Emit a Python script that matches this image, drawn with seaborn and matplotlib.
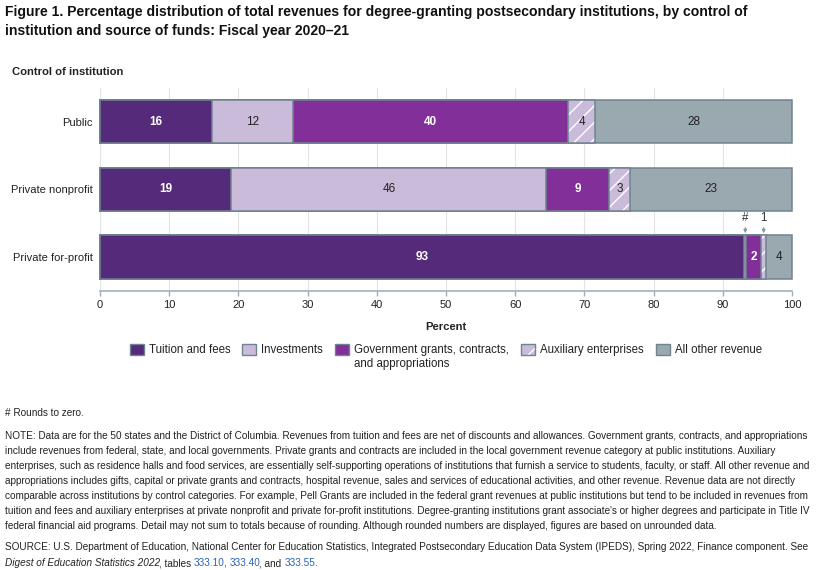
import matplotlib
matplotlib.use("Agg")
import matplotlib.pyplot as plt
import seaborn as sns
import numpy as np
from matplotlib.patches import Patch
from matplotlib.text import Annotation

# ---------------- data ----------------
categories = ["Public", "Private nonprofit", "Private for-profit"]
series_names = ["Tuition and fees", "Investments", "Government grants, contracts,",
                "Auxiliary enterprises", "All other revenue"]
tuition = [16.2, 19.0, 93.1]
investments = [11.7, 45.5, 0.3]
government = [39.7, 9.1, 2.1]
auxiliary = [4.0, 3.0, 0.8]
other = [28.4, 23.4, 3.7]
x_ticks = [0, 10, 20, 30, 40, 50, 60, 70, 80, 90, 100]

title = ("Figure 1. Percentage distribution of total revenues for degree-granting postsecondary institutions, by control of\n"
         "institution and source of funds: Fiscal year 2020\u201321")
note_lines = [
    "NOTE: Data are for the 50 states and the District of Columbia. Revenues from tuition and fees are net of discounts and allowances. Government grants, contracts, and appropriations",
    "include revenues from federal, state, and local governments. Private grants and contracts are included in the local government revenue category at public institutions. Auxiliary",
    "enterprises, such as residence halls and food services, are essentially self-supporting operations of institutions that furnish a service to students, faculty, or staff. All other revenue and",
    "appropriations includes gifts, capital or private grants and contracts, hospital revenue, sales and services of educational activities, and other revenue. Revenue data are not directly",
    "comparable across institutions by control categories. For example, Pell Grants are included in the federal grant revenues at public institutions but tend to be included in revenues from",
    "tuition and fees and auxiliary enterprises at private nonprofit and private for-profit institutions. Degree-granting institutions grant associate's or higher degrees and participate in Title IV",
    "federal financial aid programs. Detail may not sum to totals because of rounding. Although rounded numbers are displayed, figures are based on unrounded data.",
]
source_line1 = ("SOURCE: U.S. Department of Education, National Center for Education Statistics, Integrated Postsecondary "
                "Education Data System (IPEDS), Spring 2022, Finance component. See")
source_pieces = [("Digest of Education Statistics 2022", "italic", "#222222"),
                 (", tables ", "normal", "#222222"),
                 ("333.10", "normal", "#2a62b8"),
                 (", ", "normal", "#222222"),
                 ("333.40", "normal", "#2a62b8"),
                 (", and ", "normal", "#222222"),
                 ("333.55", "normal", "#2a62b8"),
                 (".", "normal", "#222222")]

# ---------------- style ----------------
sns.set_theme(style="white")
plt.rcParams['font.family'] = ['Liberation Sans', 'DejaVu Sans']
plt.rcParams['hatch.linewidth'] = 1.0

colors = ["#562a7b", "#cbbbdb", "#822f99", "#cbbbdb", "#9aa8b0"]
hatches = [None, None, None, "//", None]
edge = "#6f8390"
label_colors = ["white", "#222222", "white", "#222222", "#222222"]
label_weights = ["bold", "normal", "bold", "normal", "normal"]
text_color = "#222222"

W, H = 816, 570
fig = plt.figure(figsize=(W / 100, H / 100), dpi=100)
ax = fig.add_axes([100 / W, 1 - 290.7 / H, 692 / W, (290.7 - 88) / H])

series = [tuition, investments, government, auxiliary, other]
cums = []
c = np.zeros(len(categories))
for s in series:
    c = c + np.array(s)
    cums.append(c.copy())

bar_w = 0.64
# draw cumulative bars from the right-most series backwards
for i in range(len(series) - 1, -1, -1):
    if hatches[i]:
        sns.barplot(x=cums[i], y=categories, orient="h", color=colors[i], saturation=1,
                    width=bar_w, edgecolor="white", linewidth=0, hatch=hatches[i],
                    errorbar=None, ax=ax)
        sns.barplot(x=cums[i], y=categories, orient="h", color=edge, saturation=1,
                    width=bar_w, fill=False, linewidth=1.1, errorbar=None, ax=ax)
    else:
        sns.barplot(x=cums[i], y=categories, orient="h", color=colors[i], saturation=1,
                    width=bar_w, edgecolor=edge, linewidth=1.1, errorbar=None, ax=ax)
for p in ax.patches:
    p.set_clip_on(False)

# segment labels
for i, s in enumerate(series):
    for j, v in enumerate(s):
        center = cums[i][j] - v / 2
        lab = "#" if v < 0.5 else f"{int(np.floor(v + 0.5))}"
        if v < 1.5:
            ax.annotate(lab, xy=(center, j - bar_w / 2 - 0.02), xytext=(0, 7.5),
                        textcoords="offset points", ha="center", va="bottom",
                        fontsize=8.3, color="#333333", annotation_clip=False,
                        arrowprops=dict(arrowstyle="-|>", color="#7f98a8", lw=0.8,
                                        mutation_scale=5, shrinkA=0.5, shrinkB=0.5))
        else:
            ax.text(center, j, lab, ha="center", va="center", fontsize=8.5,
                    color=label_colors[i], fontweight=label_weights[i])

ax.set_xlim(0, 100)
ax.set_xticks(x_ticks)
ax.set_xticklabels([str(t) for t in x_ticks])
ax.set_xlabel("")
ax.set_ylabel("")
ax.xaxis.grid(True, color="#e4e4e4", lw=0.8)
ax.yaxis.grid(False)
ax.set_axisbelow(True)
for sp in ["top", "right", "left"]:
    ax.spines[sp].set_visible(False)
ax.spines["bottom"].set_color("#9fb0ba")
ax.spines["bottom"].set_linewidth(1.2)
ax.tick_params(axis="x", length=3.5, color="#9fb0ba", width=1, labelsize=8,
               pad=3, labelcolor=text_color, bottom=True)
ax.tick_params(axis="y", length=0, labelsize=8, pad=5, labelcolor=text_color)
for lab in ax.get_xticklabels() + ax.get_yticklabels():
    lab.set_fontsize(8)

# ---------------- texts ----------------
fig.text(5 / W, 1 - 5 / H, title, fontsize=10.1, fontweight="bold", va="top",
         ha="left", linespacing=1.42, color="#111111")
fig.text(12 / W, 1 - 72 / H, "Control of institution", fontsize=8.1,
         fontweight="bold", va="center", ha="left", color=text_color)
fig.text(446 / W, 1 - 327 / H, "Percent", fontsize=8.1, fontweight="bold",
         va="center", ha="center", color=text_color)

# legend
handles = []
for i in range(len(series)):
    if hatches[i]:
        handles.append((Patch(facecolor=colors[i], edgecolor="white", hatch=hatches[i], lw=0),
                        Patch(facecolor="none", edgecolor=edge, lw=1.0)))
    else:
        handles.append(Patch(facecolor=colors[i], edgecolor=edge, lw=1.0))
leg = fig.legend(handles=handles, labels=series_names, ncol=5, loc="center",
                 bbox_to_anchor=(446 / W, 1 - 350 / H), frameon=False, fontsize=8.3,
                 handlelength=1.2, handleheight=1.2, handletextpad=0.45,
                 columnspacing=1.05, borderpad=0, borderaxespad=0)
for t in leg.get_texts():
    t.set_color(text_color)
extra = Annotation("and appropriations", xy=(0, 0), xycoords=leg.get_texts()[2],
                   xytext=(0, -1.2), textcoords="offset points", ha="left", va="top",
                   fontsize=8.3, color=text_color)
extra.set_zorder(20)
fig.add_artist(extra)

# notes
nfs = 7.2
fig.text(5 / W, 1 - 413 / H, "# Rounds to zero.", fontsize=nfs, va="center",
         ha="left", color=text_color)
for k, line in enumerate(note_lines):
    fig.text(5 / W, 1 - (436 + 15 * k) / H, line, fontsize=nfs, va="center",
             ha="left", color=text_color)
fig.text(5 / W, 1 - 547 / H, source_line1, fontsize=nfs, va="center", ha="left",
         color=text_color)
prev = fig.text(5 / W, 1 - 568 / H, source_pieces[0][0], fontsize=nfs, va="bottom",
                ha="left", style=source_pieces[0][1], color=source_pieces[0][2])
for txt, st, col in source_pieces[1:]:
    dx = -0.7 if txt[0] in ",." else 0.0
    a = Annotation(txt, xy=(1, 0), xycoords=prev, xytext=(dx, 0),
                   textcoords="offset points", ha="left", va="bottom",
                   fontsize=nfs, style=st, color=col)
    a.set_zorder(20)
    fig.add_artist(a)
    prev = a

fig.savefig("out.png", dpi=100)
